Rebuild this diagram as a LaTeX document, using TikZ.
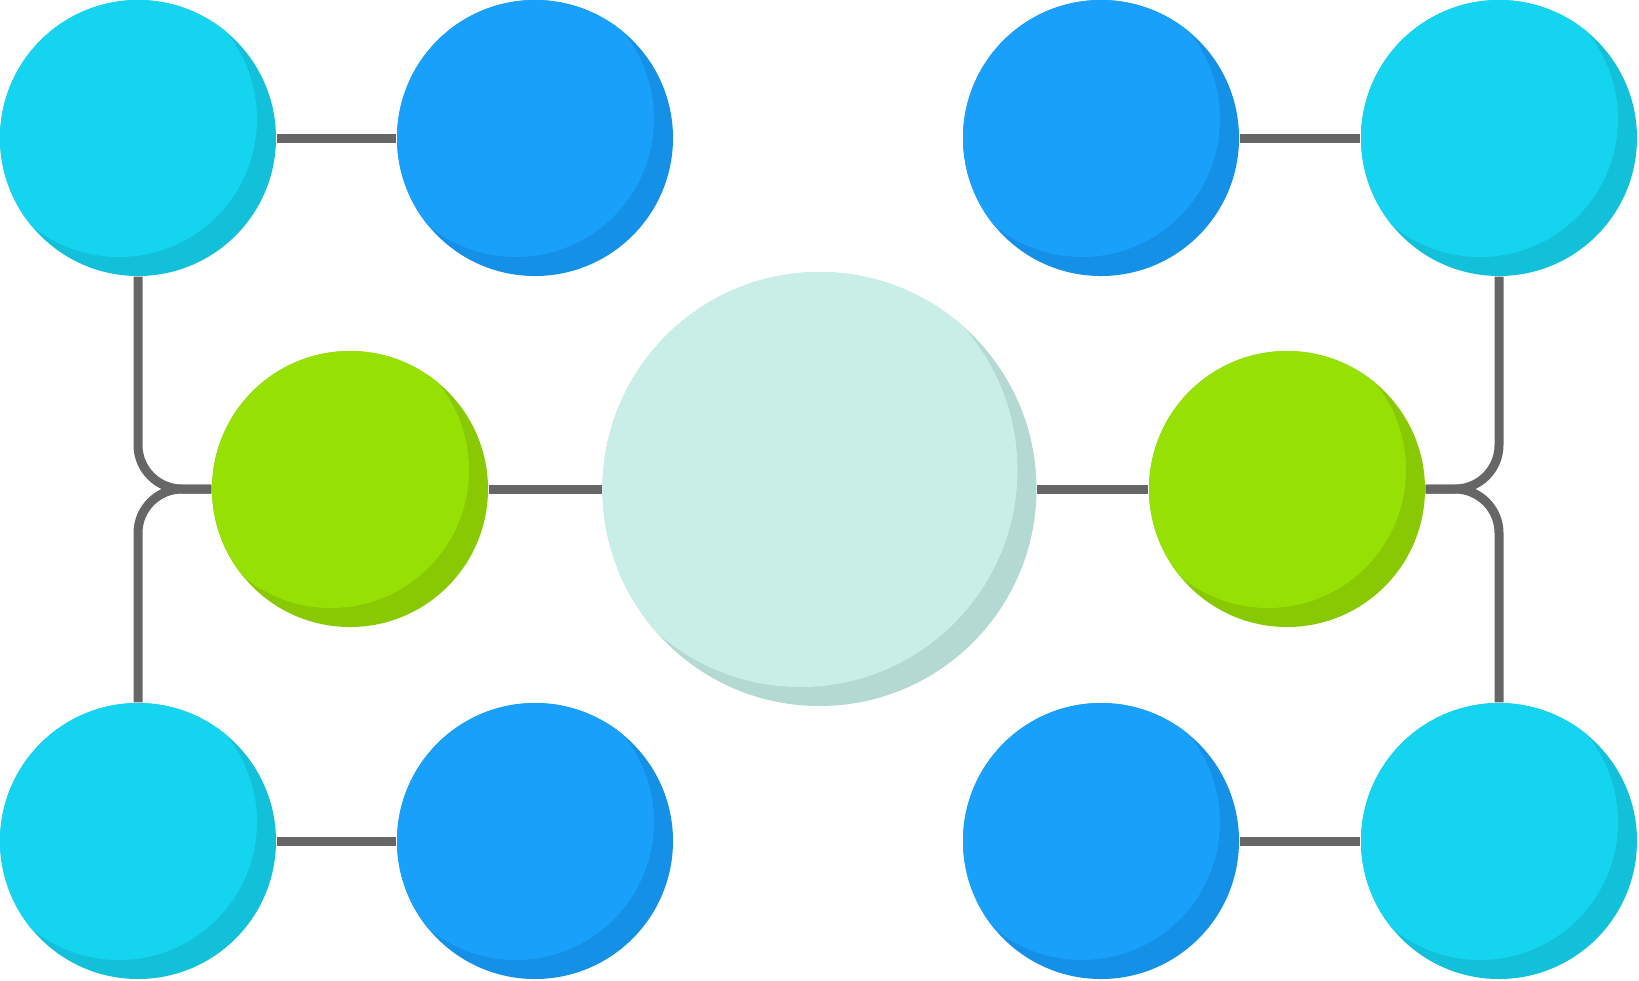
\documentclass[tikz,border=0pt]{standalone}
\usepackage{xcolor}
\usepackage{tikz}
\usetikzlibrary{positioning}

\definecolor{cianclaro}{HTML}{14D4EF}
\definecolor{cianoscuro}{HTML}{12C0DA}
\definecolor{azulclaro}{HTML}{18A0FB}
\definecolor{azuloscuro}{HTML}{1490E6}
\definecolor{verdeclaro}{HTML}{97E003}
\definecolor{verdeoscuro}{HTML}{88C903}
\definecolor{menta}{HTML}{C9EEE7}
\definecolor{mentaoscuro}{HTML}{B4D9D3}
\definecolor{gris}{HTML}{666666}

\tikzset{
  bola/.style 2 args={circle, inner sep=0pt, minimum size=2.76cm, fill=#2,
    path picture={\fill[#1] ([shift={(-0.19,0.19)}]path picture bounding box.center) circle (1.38cm);}},
  bolagrande/.style={circle, inner sep=0pt, minimum size=4.34cm, fill=mentaoscuro,
    path picture={\fill[menta] ([shift={(-0.19,0.19)}]path picture bounding box.center) circle (2.17cm);}},
  enlace/.style={draw=gris, line width=0.09cm},
}

\begin{document}
\begin{tikzpicture}
        \useasboundingbox (0,0) rectangle (16.39,-9.80);
        % Centro
        \node[bolagrande] (centro) at (8.195,-4.89) {};
        \node[bola={verdeclaro}{verdeoscuro}] (verdeizq) at (3.50,-4.89) {};
        \node[bola={verdeclaro}{verdeoscuro}] (verdeder) at (12.87,-4.89) {};
        % Fila superior
        \node[bola={cianclaro}{cianoscuro}] (ciansupizq) at (1.38,-1.38) {};
        \node[bola={azulclaro}{azuloscuro}] (azulsupizq) at (5.35,-1.38) {};
        \node[bola={azulclaro}{azuloscuro}] (azulsupder) at (11.01,-1.38) {};
        \node[bola={cianclaro}{cianoscuro}] (cianzupder) at (14.99,-1.38) {};
        % Fila inferior
        \node[bola={cianclaro}{cianoscuro}] (cianinfizq) at (1.38,-8.41) {};
        \node[bola={azulclaro}{azuloscuro}] (azulinfizq) at (5.35,-8.41) {};
        \node[bola={azulclaro}{azuloscuro}] (azulinfder) at (11.01,-8.41) {};
        \node[bola={cianclaro}{cianoscuro}] (cianinfder) at (14.99,-8.41) {};
        % Enlaces horizontales
        \draw[enlace] (ciansupizq) -- (azulsupizq);
        \draw[enlace] (azulsupder) -- (cianzupder);
        \draw[enlace] (cianinfizq) -- (azulinfizq);
        \draw[enlace] (azulinfder) -- (cianinfder);
        \draw[enlace] (verdeizq) -- (centro);
        \draw[enlace] (centro) -- (verdeder);
        % Enlaces curvos
        \draw[enlace, rounded corners=0.44cm] (ciansupizq.south) |- (verdeizq.west);
        \draw[enlace, rounded corners=0.44cm] (cianinfizq.north) |- (verdeizq.west);
        \draw[enlace, rounded corners=0.44cm] (cianzupder.south) |- (verdeder.east);
        \draw[enlace, rounded corners=0.44cm] (cianinfder.north) |- (verdeder.east);
    \end{tikzpicture}
\end{document}
